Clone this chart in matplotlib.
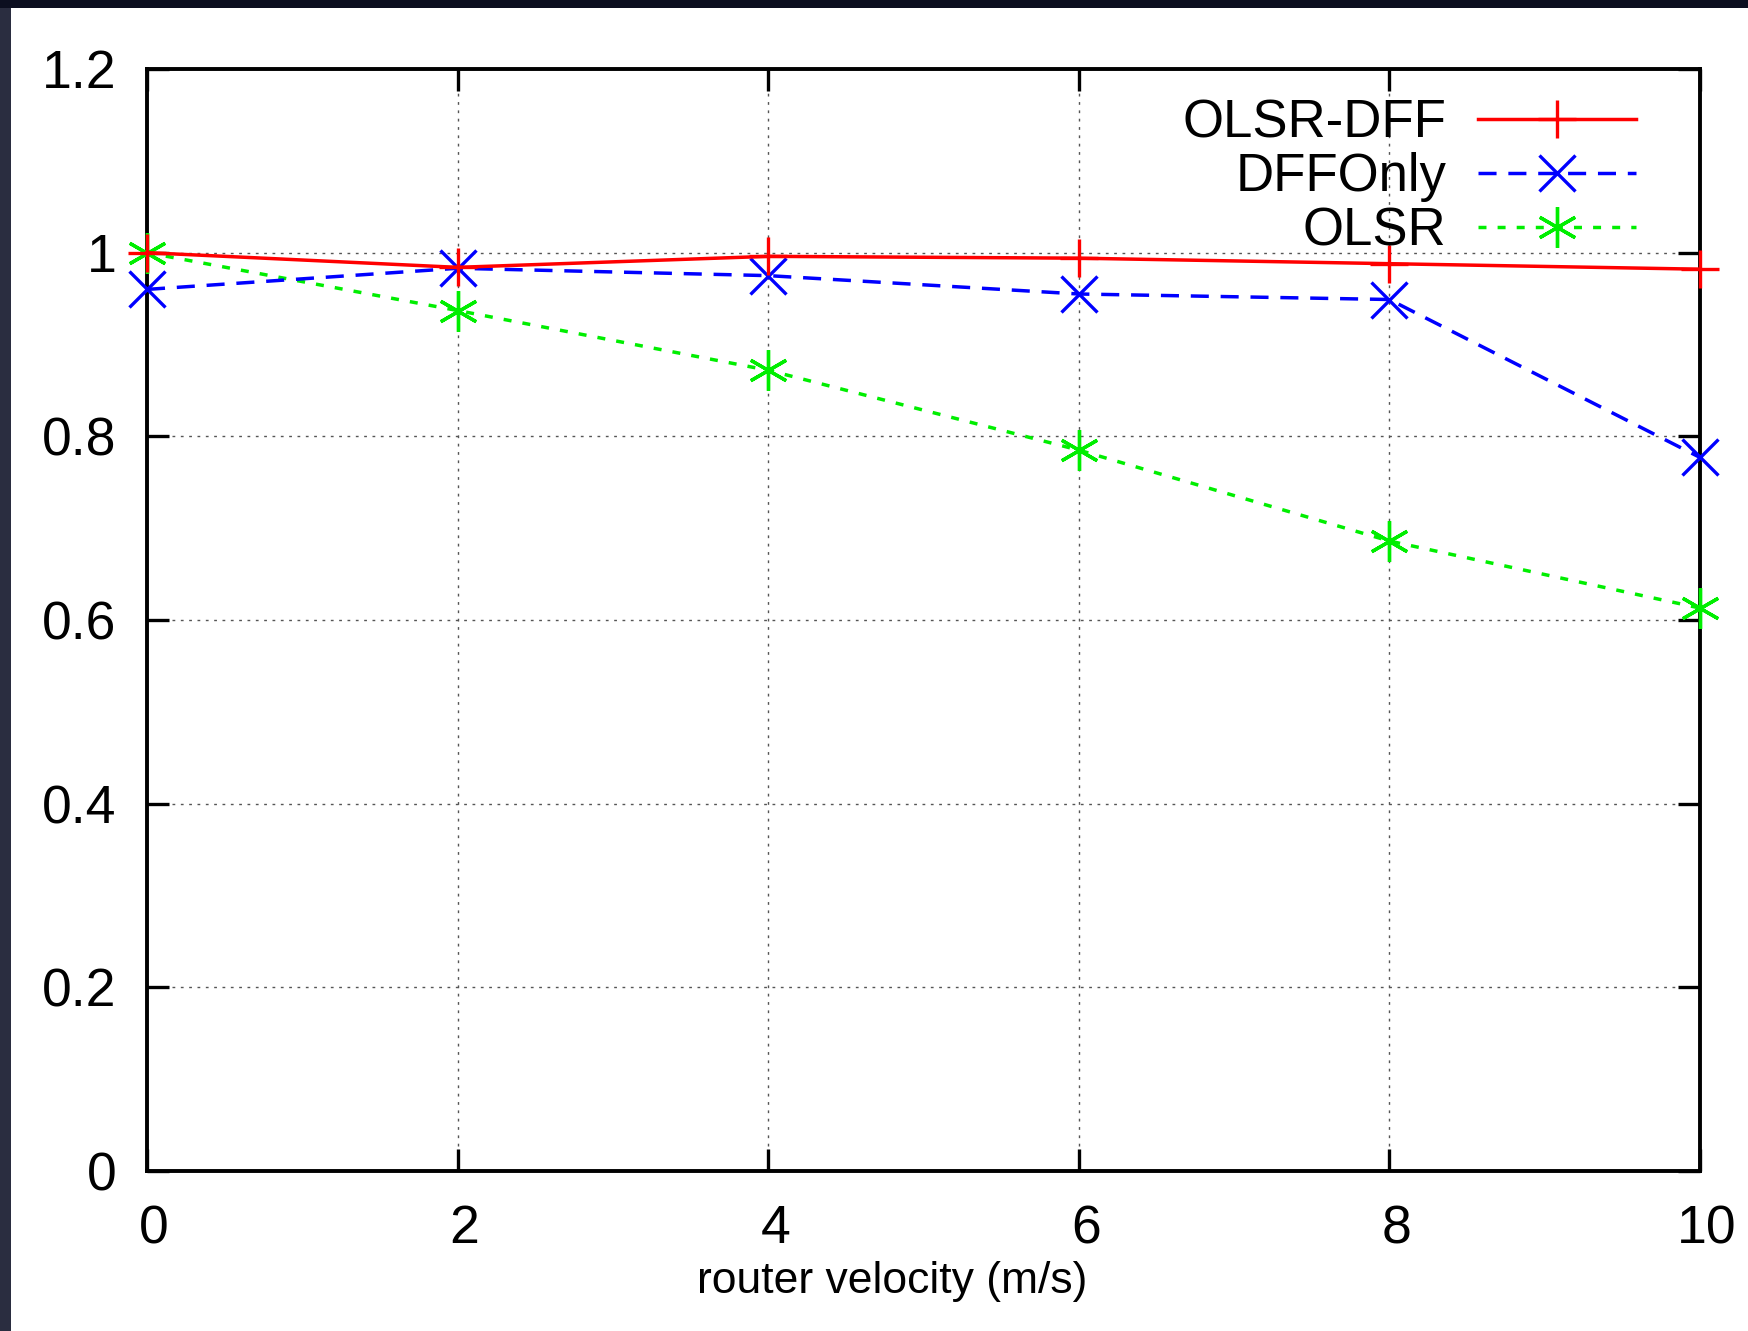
import matplotlib
matplotlib.use("Agg")
import matplotlib.pyplot as plt
from matplotlib.patches import Rectangle
from matplotlib.transforms import ScaledTranslation

# ---- data ----
velocity = [0, 2, 4, 6, 8, 10]
olsr_dff = [1.000, 0.984, 0.996, 0.994, 0.988, 0.982]
dff_only = [0.960, 0.983, 0.975, 0.955, 0.949, 0.777]
olsr = [1.000, 0.937, 0.872, 0.785, 0.686, 0.613]
series_labels = ["OLSR-DFF", "DFFOnly", "OLSR"]
x_ticks = [0, 2, 4, 6, 8, 10]
y_ticks = [0, 0.2, 0.4, 0.6, 0.8, 1, 1.2]
y_tick_labels = ["0", "0.2", "0.4", "0.6", "0.8", "1", "1.2"]
x_label = "router velocity (m/s)"

plt.rcParams['font.family'] = ['Liberation Sans', 'DejaVu Sans']

W, H = 1749, 1331
fig = plt.figure(figsize=(W / 100, H / 100), dpi=100)
fig.patch.set_facecolor("white")

# dark screen border (left and top)
fig.patches.append(Rectangle((0, 0), 11 / W, 1, transform=fig.transFigure,
                             facecolor="#2a2d40", edgecolor="none", zorder=0))
fig.patches.append(Rectangle((0, 1 - 8 / H), 1, 8 / H, transform=fig.transFigure,
                             facecolor="#0c0f20", edgecolor="none", zorder=0))

L, R, T, B = 147, 1700, 69, 1171
ax = fig.add_axes([L / W, 1 - B / H, (R - L) / W, (B - T) / H])

lw = 2.5
ms = 28
mew = 2.4
ax.plot(velocity, olsr_dff, color="#ff0000", lw=lw, ls="-", marker="+",
        ms=ms, mew=mew, label=series_labels[0], clip_on=False, zorder=5)
ax.plot(velocity, dff_only, color="#0000ff", lw=lw, ls=(0, (5.2, 3.4)), marker="x",
        ms=ms * 0.95, mew=mew, label=series_labels[1], clip_on=False, zorder=4)
ax.plot(velocity, olsr, color="#00ee00", lw=lw, ls=(0, (2.3, 3.2)), marker=(6, 2, 0),
        ms=ms * 1.05, mew=mew, label=series_labels[2], clip_on=False, zorder=3)

ax.set_xlim(0, 10)
ax.set_ylim(0, 1.2)
ax.set_xticks(x_ticks)
ax.set_xticklabels([str(v) for v in x_ticks])
ax.set_yticks(y_ticks)
ax.set_yticklabels(y_tick_labels)

for s in ax.spines.values():
    s.set_linewidth(2.8)
    s.set_color("black")

ax.tick_params(axis="both", which="major", direction="in", length=16, width=2.4,
               top=True, right=True, labelsize=38.5, colors="black")
ax.tick_params(axis="x", pad=24)
ax.tick_params(axis="y", pad=22)

shift = ScaledTranslation(7 / 100, 0, fig.dpi_scale_trans)
for lab in ax.get_xticklabels():
    lab.set_transform(lab.get_transform() + shift)

ax.grid(True, color="#555555", lw=1.0, ls=(0, (2, 4)))
ax.set_axisbelow(True)

ax.set_xlabel(x_label, fontsize=32)
ax.xaxis.label.set_va("center")
ax.xaxis.set_label_coords((892 - L) / (R - L), -(1281 - B) / (B - T), transform=ax.transAxes)

leg = ax.legend(loc="upper right", bbox_to_anchor=((1636 - L) / (R - L), (B - 98) / (B - T)),
                frameon=False, markerfirst=False, fontsize=38, handlelength=3.0,
                handletextpad=0.6, labelspacing=0.08, borderpad=0, borderaxespad=0,
                numpoints=1)

fig.savefig("out.png", dpi=100, facecolor=fig.get_facecolor())
